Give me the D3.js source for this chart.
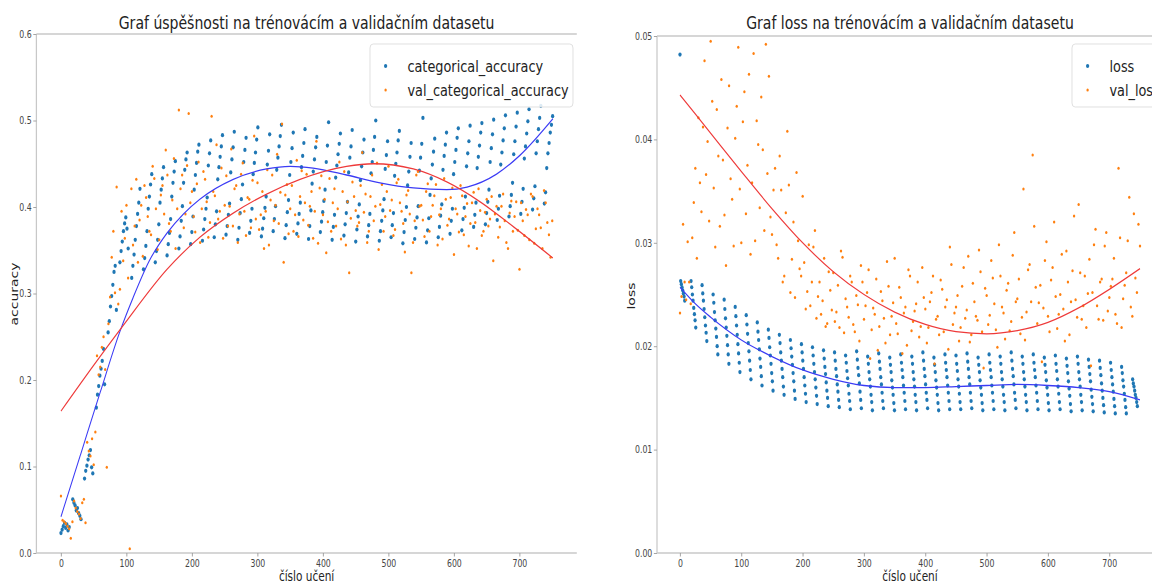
<!DOCTYPE html>
<html><head><meta charset="utf-8">
<script src="https://cdn.jsdelivr.net/npm/d3@7"></script>
<style>body{margin:0;background:#fff}svg{display:block}</style>
</head><body>
<svg id="c" width="1152" height="586"></svg>
<script>
// ---------- DATA ----------
// training runs appear in streaks: a streak every 18 epochs, 8 dots per streak
const streakPeriod = 18, streakDots = 8;
const accStreakGap = 1.8, lossStreakGap = 1.1;   // epochs between dots inside a streak
const valStep = 5;     // validation samples: series A at 0,5,10..., series B at 2.5,7.5,...

const accTrain = [
 .023,.027,.031,.035,.029,.033,.026,.030,  .062,.058,.055,.049,.052,.046,.043,.039,
 .086,.095,.101,.108,.113,.119,.099,.092,  .168,.183,.193,.205,.213,.222,.236,.195,
 .255,.268,.285,.297,.310,.325,.332,.281,  .336,.349,.360,.372,.381,.388,.375,.352,
 .318,.332,.345,.362,.378,.392,.405,.421,  .328,.341,.355,.372,.398,.412,.426,.438,
 .336,.349,.362,.380,.405,.420,.433,.446,  .344,.357,.370,.386,.412,.428,.441,.453,
 .352,.366,.384,.401,.428,.443,.455,.463,  .357,.371,.389,.420,.437,.451,.464,.472,
 .361,.374,.386,.398,.411,.448,.462,.477,  .365,.380,.395,.432,.446,.458,.470,.483,
 .368,.378,.391,.404,.440,.455,.469,.487,  .362,.376,.393,.409,.426,.452,.466,.480,
 .370,.384,.398,.438,.451,.463,.478,.492,  .366,.375,.387,.399,.412,.449,.465,.484,
 .372,.386,.401,.443,.457,.470,.482,.495,  .364,.379,.394,.408,.437,.452,.468,.486,
 .369,.381,.392,.405,.446,.459,.474,.490,  .363,.378,.396,.427,.441,.455,.469,.481,
 .371,.383,.394,.407,.420,.452,.471,.498,  .362,.377,.391,.434,.448,.461,.473,.485,
 .367,.380,.393,.406,.440,.457,.470,.489,  .360,.374,.389,.403,.431,.447,.463,.478,
 .366,.379,.392,.439,.452,.466,.481,.500,  .361,.372,.384,.396,.409,.444,.460,.476,
 .365,.379,.393,.436,.450,.463,.477,.488,  .358,.371,.385,.400,.425,.441,.458,.474,
 .363,.376,.388,.401,.442,.457,.473,.503,  .359,.373,.387,.414,.433,.449,.464,.479,
 .365,.377,.390,.403,.443,.459,.472,.486,  .369,.384,.398,.438,.452,.466,.480,.491,
 .373,.386,.399,.412,.447,.462,.476,.494,  .377,.391,.405,.445,.458,.471,.486,.497,
 .380,.393,.406,.420,.452,.468,.484,.501,  .385,.398,.413,.449,.463,.477,.491,.506,
 .389,.401,.414,.428,.461,.476,.493,.509,  .392,.406,.421,.456,.470,.485,.499,.513,
 .397,.410,.424,.462,.476,.490,.503,.517,  .404,.417,.445,.462,.474,.486,.495,.505
];
const accValA = [
 .066,.036,.031,.017,.060,.048,.040,.062,.128,.112,
 .102,.228,.215,.250,.099,.296,.372,.423,.305,.338,
 .402,.005,.356,.432,.385,.343,.411,.372,.447,.398,
 .362,.425,.466,.381,.408,.352,.512,.437,.392,.508,
 .418,.371,.452,.398,.432,.365,.505,.413,.386,.445,
 .402,.378,.467,.421,.359,.438,.395,.411,.376,.482,
 .428,.391,.352,.443,.408,.384,.461,.417,.336,.426,
 .398,.372,.454,.412,.385,.438,.401,.364,.476,.422,
 .391,.347,.433,.405,.378,.452,.418,.356,.324,.429,
 .396,.382,.463,.415,.372,.437,.401,.351,.426,.389,
 .447,.408,.374,.432,.395,.348,.419,.324,.384,.441,
 .402,.366,.427,.389,.413,.356,.398,.433,.379,.411,
 .345,.392,.425,.368,.404,.381,.417,.352,.396,.372,
 .409,.386,.338,.401,.377,.415,.359,.393,.372,.406,
 .328,.384,.397,.362,.412,.375,.391,.352,.405,.368,
 .384
];
const accValB = [
 .038,.034,.028,.036,.052,.045,.058,.035,.118,.132,
 .140,.206,.238,.212,.265,.342,.301,.288,.395,.364,
 .318,.421,.378,.336,.402,.425,.389,.368,.433,.351,
 .414,.392,.437,.372,.456,.398,.421,.376,.448,.405,
 .389,.427,.359,.441,.406,.382,.418,.472,.395,.364,
 .436,.401,.378,.425,.392,.451,.367,.409,.431,.386,
 .374,.418,.395,.356,.437,.402,.381,.496,.414,.369,
 .425,.391,.366,.442,.405,.379,.418,.395,.358,.436,
 .409,.383,.372,.421,.398,.363,.441,.406,.387,.412,
 .378,.425,.394,.359,.412,.384,.451,.403,.372,.418,
 .396,.367,.428,.405,.381,.414,.392,.359,.437,.401,
 .385,.418,.372,.402,.426,.391,.363,.409,.386,.422,
 .398,.371,.413,.389,.355,.405,.382,.421,.367,.394,
 .378,.412,.392,.365,.401,.384,.352,.407,.389,.373,
 .405,.367,.391,.415,.358,.398,.376,.419,.382,.342
];
const lossTrain = [
 .0482,.0263,.0260,.0257,.0254,.0251,.0248,.0244,  .0263,.0257,.0250,.0244,.0237,.0231,.0225,.0218,
 .0259,.0251,.0244,.0236,.0228,.0220,.0213,.0205,  .0250,.0242,.0233,.0225,.0217,.0209,.0200,.0192,
 .0245,.0236,.0227,.0218,.0210,.0201,.0192,.0183,  .0238,.0229,.0220,.0211,.0202,.0193,.0184,.0175,
 .0230,.0221,.0212,.0203,.0195,.0186,.0177,.0168,  .0223,.0214,.0206,.0197,.0188,.0180,.0171,.0162,
 .0216,.0208,.0199,.0191,.0183,.0174,.0166,.0157,  .0211,.0203,.0194,.0186,.0178,.0170,.0161,.0153,
 .0206,.0198,.0190,.0182,.0174,.0166,.0157,.0149,  .0202,.0194,.0186,.0178,.0170,.0162,.0154,.0146,
 .0199,.0191,.0183,.0175,.0168,.0160,.0152,.0144,  .0196,.0188,.0180,.0173,.0165,.0157,.0150,.0142,
 .0194,.0186,.0178,.0171,.0163,.0156,.0148,.0141,  .0191,.0184,.0176,.0169,.0162,.0154,.0147,.0139,
 .0195,.0187,.0179,.0172,.0164,.0156,.0148,.0140,  .0190,.0183,.0175,.0168,.0161,.0153,.0146,.0138,
 .0193,.0185,.0178,.0170,.0163,.0155,.0147,.0140,  .0189,.0182,.0175,.0167,.0160,.0153,.0145,.0138,
 .0192,.0184,.0177,.0170,.0162,.0155,.0147,.0139,  .0190,.0183,.0175,.0168,.0161,.0153,.0146,.0138,
 .0194,.0186,.0178,.0171,.0163,.0155,.0148,.0140,  .0189,.0182,.0175,.0167,.0160,.0153,.0145,.0138,
 .0192,.0184,.0177,.0170,.0162,.0155,.0147,.0139,  .0191,.0183,.0176,.0168,.0161,.0154,.0146,.0139,
 .0193,.0185,.0178,.0170,.0163,.0155,.0147,.0140,  .0189,.0182,.0175,.0167,.0160,.0153,.0145,.0138,
 .0192,.0184,.0177,.0170,.0162,.0155,.0147,.0139,  .0190,.0183,.0175,.0168,.0161,.0153,.0146,.0138,
 .0194,.0186,.0178,.0171,.0163,.0155,.0148,.0140,  .0190,.0183,.0175,.0168,.0161,.0153,.0146,.0138,
 .0192,.0184,.0177,.0170,.0162,.0155,.0147,.0139,  .0189,.0182,.0175,.0167,.0160,.0153,.0145,.0138,
 .0191,.0183,.0176,.0168,.0161,.0154,.0146,.0139,  .0188,.0181,.0174,.0166,.0159,.0152,.0144,.0137,
 .0190,.0183,.0175,.0168,.0161,.0153,.0146,.0138,  .0187,.0180,.0173,.0166,.0158,.0151,.0144,.0137,
 .0186,.0179,.0172,.0164,.0157,.0150,.0143,.0136,  .0184,.0177,.0170,.0163,.0156,.0149,.0142,.0135,
 .0180,.0174,.0167,.0161,.0154,.0148,.0141,.0135,  .0168,.0164,.0161,.0157,.0153,.0150,.0146,.0142
];
const lossValA = [
 .0232,.0318,.0245,.0262,.0305,.0372,.0421,.0330,.0476,.0398,
 .0495,.0353,.0429,.0316,.0380,.0278,.0452,.0342,.0401,.0489,
 .0300,.0446,.0375,.0289,.0483,.0418,.0334,.0390,.0492,.0461,
 .0308,.0372,.0285,.0351,.0268,.0408,.0252,.0320,.0368,.0275,
 .0345,.0236,.0298,.0262,.0312,.0248,.0231,.0285,.0222,.0254,
 .0271,.0233,.0218,.0286,.0246,.0228,.0262,.0214,.0240,.0278,
 .0226,.0252,.0188,.0237,.0265,.0219,.0244,.0203,.0258,.0229,
 .0285,.0212,.0247,.0232,.0201,.0268,.0224,.0241,.0209,.0276,
 .0236,.0218,.0252,.0183,.0229,.0264,.0214,.0245,.0296,.0221,
 .0238,.0205,.0258,.0227,.0287,.0211,.0243,.0225,.0272,.0179,
 .0249,.0230,.0266,.0216,.0298,.0238,.0207,.0261,.0224,.0310,
 .0246,.0212,.0352,.0233,.0279,.0385,.0257,.0242,.0185,.0283,
 .0229,.0264,.0320,.0217,.0250,.0236,.0292,.0211,.0273,.0245,
 .0337,.0226,.0268,.0251,.0181,.0298,.0239,.0262,.0225,.0310,
 .0247,.0265,.0231,.0372,.0218,.0259,.0302,.0238,.0328,.0252,
 .0297
];
const lossValB = [
 .0248,.0262,.0301,.0241,.0339,.0285,.0358,.0412,.0366,.0321,
 .0437,.0296,.0384,.0458,.0327,.0411,.0362,.0297,.0432,.0352,
 .0417,.0328,.0463,.0358,.0302,.0395,.0441,.0312,.0367,.0325,
 .0351,.0298,.0384,.0262,.0329,.0356,.0284,.0247,.0302,.0268,
 .0281,.0253,.0239,.0296,.0227,.0262,.0244,.0219,.0272,.0235,
 .0224,.0259,.0292,.0213,.0238,.0268,.0221,.0249,.0205,.0262,
 .0239,.0274,.0216,.0231,.0196,.0253,.0227,.0282,.0211,.0242,
 .0222,.0257,.0193,.0238,.0274,.0215,.0234,.0262,.0219,.0247,
 .0203,.0243,.0268,.0226,.0211,.0255,.0238,.0197,.0279,.0232,
 .0249,.0218,.0276,.0235,.0204,.0261,.0229,.0293,.0214,.0256,
 .0221,.0283,.0241,.0199,.0268,.0232,.0254,.0215,.0288,.0243,
 .0265,.0228,.0206,.0274,.0243,.0316,.0222,.0259,.0237,.0301,
 .0214,.0276,.0248,.0231,.0289,.0205,.0262,.0243,.0326,.0228,
 .0271,.0239,.0218,.0284,.0252,.0313,.0226,.0265,.0297,.0234,
 .0258,.0285,.0222,.0305,.0246,.0271,.0344,.0229,.0266,.0318
];

// polynomial trend lines (epoch, value)
const accTrainFitX = [0,30,60,90,110,135,162,187,212,263,314,350,385,436,487,538,589,620,665,701,751];
const accTrainFitY = [.042,.114,.186,.256,.295,.338,.370,.392,.409,.432,.444,.447,.445,.437,.428,.422,.420,.423,.438,.460,.502];
const accValFitX = [0,50,95,162,212,263,314,365,436,477,538,589,640,691,751];
const accValFitY = [.164,.217,.263,.328,.365,.393,.415,.432,.447,.450,.444,.429,.406,.377,.341];
const lossTrainFitX = [0,25,50,100,150,200,250,300,350,400,450,500,550,600,650,700,750];
const lossTrainFitY = [.0257,.0241,.0228,.0206,.0190,.0177,.0168,.0162,.0160,.0160,.0161,.0162,.0163,.0162,.0160,.0156,.0148];
const lossValFitX = [0,50,100,150,200,250,300,350,400,450,500,550,600,650,700,750];
const lossValFitY = [.0443,.0406,.0369,.0333,.0300,.0272,.0250,.0233,.0221,.0214,.0212,.0215,.0223,.0237,.0255,.0275];

const xTicks = [0,100,200,300,400,500,600,700];
const accTicks = [0,0.1,0.2,0.3,0.4,0.5,0.6];
const lossTicks = [0,0.01,0.02,0.03,0.04,0.05];

// ---------- DRAW ----------
const S = 0.78;                       // horizontal squash of the original picture
const FONT = "'DejaVu Sans', sans-serif";
const svg = d3.select("#c");
const root = svg.append("g").attr("transform", `scale(${S},1)`);
const BLUE = "#1f77b4", ORANGE = "#ff7f0e";

function panel(cfg) {
  const g = root.append("g");
  const x = d3.scaleLinear().domain([-37.5, 787.5]).range([cfg.x0, cfg.x1]);
  const y = d3.scaleLinear().domain([0, cfg.ymax]).range([553, cfg.top]);
  const trainEpoch = i => Math.floor(i / streakDots) * streakPeriod + (i % streakDots) * cfg.gap;

  const sp = g.append("g").attr("stroke", "#c8c8c8").attr("stroke-width", 1.6).attr("fill", "none");
  sp.append("line").attr("x1", cfg.x0).attr("x2", cfg.x0).attr("y1", cfg.top).attr("y2", 553);
  sp.append("line").attr("x1", cfg.x0).attr("x2", cfg.x1).attr("y1", 553).attr("y2", 553);
  sp.append("line").attr("x1", cfg.x0).attr("x2", cfg.x1).attr("y1", cfg.top).attr("y2", cfg.top);

  const xa = g.append("g").attr("transform", "translate(0,553)")
    .call(d3.axisBottom(x).tickValues(xTicks).tickSize(3.5).tickPadding(3).tickFormat(d3.format("d")));
  const ya = g.append("g").attr("transform", `translate(${cfg.x0},0)`)
    .call(d3.axisLeft(y).tickValues(cfg.ticks).tickSize(4).tickPadding(2).tickFormat(d3.format(cfg.fmt)));
  [xa, ya].forEach(a => {
    a.select(".domain").remove();
    a.selectAll(".tick line").attr("stroke", "#999");
    a.selectAll(".tick text").attr("fill", "#444").style("font-family", FONT).style("font-size", "10px");
  });

  g.append("g").selectAll("circle").data(cfg.train).join("circle")
    .attr("cx", (d, i) => x(trainEpoch(i))).attr("cy", d => y(d))
    .attr("r", 2.1).attr("fill", BLUE);
  const vg = g.append("g").attr("fill", ORANGE);
  vg.selectAll("circle.a").data(cfg.valA).join("circle").attr("class", "a")
    .attr("cx", (d, i) => x(i * valStep)).attr("cy", d => y(d)).attr("r", 1.5);
  vg.selectAll("circle.b").data(cfg.valB).join("circle").attr("class", "b")
    .attr("cx", (d, i) => x(i * valStep + valStep / 2)).attr("cy", d => y(d)).attr("r", 1.5);

  const line = d3.line().x(d => x(d[0])).y(d => y(d[1])).curve(d3.curveMonotoneX);
  g.append("path").attr("d", line(d3.zip(cfg.tfx, cfg.tfy)))
    .attr("fill", "none").attr("stroke", "#3b3bf5").attr("stroke-width", 1.3);
  g.append("path").attr("d", line(d3.zip(cfg.vfx, cfg.vfy)))
    .attr("fill", "none").attr("stroke", "#ee3a3a").attr("stroke-width", 1.3);

  const cx = (cfg.x0 + cfg.x1) / 2;
  g.append("text").attr("x", cx).attr("y", 29.5).attr("text-anchor", "middle")
    .style("font-family", FONT).style("font-size", "18px").attr("fill", "#222").text(cfg.title);
  g.append("text").attr("x", cx).attr("y", 581).attr("text-anchor", "middle")
    .style("font-family", FONT).style("font-size", "13.5px").attr("fill", "#222").text("číslo učení");
  g.append("text").attr("transform", `translate(${cfg.ylabX},${cfg.ylabY}) rotate(-90)`)
    .attr("text-anchor", "middle").attr("dy", "0.35em")
    .style("font-family", FONT).style("font-size", "14px").attr("fill", "#222").text(cfg.ylabel);

  const L = cfg.leg;
  const lg = g.append("g");
  lg.append("rect").attr("x", L.x).attr("y", 44).attr("width", L.w).attr("height", 63)
    .attr("rx", 4).attr("fill", "#fff").attr("fill-opacity", 0.85).attr("stroke", "#dcdcdc").attr("stroke-width", 1);
  cfg.names.forEach((n, i) => {
    const yy = 66 + i * 24;
    lg.append("circle").attr("cx", L.x + 20).attr("cy", yy).attr("r", i ? 1.5 : 2.1).attr("fill", i ? ORANGE : BLUE);
    lg.append("text").attr("x", L.x + 48).attr("y", yy).attr("dy", "0.35em")
      .style("font-family", FONT).style("font-size", "16.5px").attr("fill", "#222").text(n);
  });
}

panel({
  x0: 36.4 / S, x1: 576.8 / S, top: 34, ymax: 0.6, ticks: accTicks, fmt: ".1f", gap: accStreakGap,
  train: accTrain, valA: accValA, valB: accValB,
  tfx: accTrainFitX, tfy: accTrainFitY, vfx: accValFitX, vfy: accValFitY,
  title: "Graf úspěšnosti na trénovácím a validačním datasetu",
  ylabel: "accuracy", ylabX: 14 / S, ylabY: 294,
  names: ["categorical_accuracy", "val_categorical_accuracy"],
  leg: { x: 370 / S, w: 203 / S }
});
panel({
  x0: 657 / S, x1: 1163 / S, top: 36, ymax: 0.05, ticks: lossTicks, fmt: ".2f", gap: lossStreakGap,
  train: lossTrain, valA: lossValA, valB: lossValB,
  tfx: lossTrainFitX, tfy: lossTrainFitY, vfx: lossValFitX, vfy: lossValFitY,
  title: "Graf loss na trénovácím a validačním datasetu",
  ylabel: "loss", ylabX: 631.5 / S, ylabY: 296,
  names: ["loss", "val_loss"],
  leg: { x: 1072 / S, w: 120 / S }
});
</script>
</body></html>
